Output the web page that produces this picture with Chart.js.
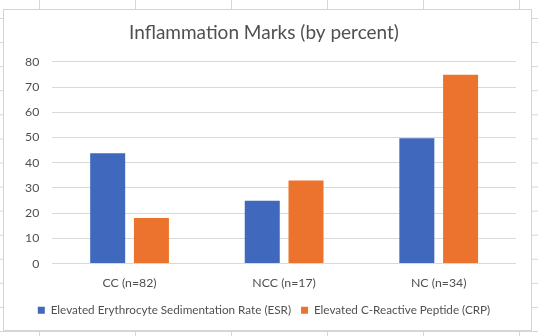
<!DOCTYPE html>
<html>
<head>
<meta charset="utf-8">
<script src="https://cdn.jsdelivr.net/npm/chart.js@4/dist/chart.umd.min.js"></script>
<style>
  html, body { margin: 0; padding: 0; }
  body {
    width: 538px; height: 336px; overflow: hidden; position: relative;
    background-color: #ffffff;
    background-image:
      linear-gradient(to right, #d6d6d6 1px, transparent 1px),
      linear-gradient(to bottom, #d6d6d6 1px, transparent 1px);
    background-size: 96px 24.08px;
    background-position: 39px 18px;
  }
  #box {
    position: absolute; left: 3px; top: 9px; width: 529px; height: 322px;
    box-sizing: border-box; border: 1px solid #d4d4d4; background: #ffffff;
  }
  canvas { display: block; }
</style>
</head>
<body>
<div id="box"><canvas id="c" width="527" height="320"></canvas></div>
<script>
const categories = ['CC (n=82)', 'NCC (n=17)', 'NC (n=34)'];
const seriesNames = ['Elevated Erythrocyte Sedimentation Rate (ESR)', 'Elevated C-Reactive Peptide (CRP)'];
const esrValues = [43.7, 24.9, 49.7];
const crpValues = [18.1, 32.9, 74.9];
const yTicks = [0, 10, 20, 30, 40, 50, 60, 70, 80];

const FONT = 'Lato, "Open Sans", sans-serif';
const TEXT = '#505050';

new Chart(document.getElementById('c'), {
  type: 'bar',
  data: {
    labels: categories,
    datasets: [
      { label: seriesNames[0], data: esrValues, backgroundColor: '#4068BD', borderWidth: 0 },
      { label: seriesNames[1], data: crpValues, backgroundColor: '#EB732D', borderWidth: 0 }
    ]
  },
  options: {
    responsive: false,
    animation: false,
    devicePixelRatio: 1,
    categoryPercentage: 0.566,
    barPercentage: 0.8,
    layout: { padding: { left: 8, right: 15, top: 11, bottom: 4 } },
    plugins: {
      title: {
        display: true,
        text: 'Inflammation Marks (by percent)',
        color: TEXT,
        font: { family: FONT, size: 19, weight: 'normal' },
        padding: { top: 0, bottom: 18 }
      },
      legend: {
        display: true,
        position: 'bottom',
        labels: {
          color: TEXT,
          font: { family: FONT, size: 11.7 },
          boxWidth: 7, boxHeight: 7,
          padding: 10
        }
      },
      tooltip: { enabled: false }
    },
    scales: {
      x: {
        grid: { display: false },
        border: { display: false },
        ticks: { color: TEXT, font: { family: FONT, size: 12.3 }, padding: 4 }
      },
      y: {
        min: yTicks[0], max: yTicks[yTicks.length - 1],
        afterBuildTicks: (axis) => { axis.ticks = yTicks.map(v => ({ value: v })); },
        grid: { color: '#d9d9d9', lineWidth: 1, drawTicks: false },
        border: { display: false },
        ticks: { color: TEXT, font: { family: FONT, size: 12.3 }, padding: 13 }
      }
    }
  }
});
</script>
</body>
</html>
